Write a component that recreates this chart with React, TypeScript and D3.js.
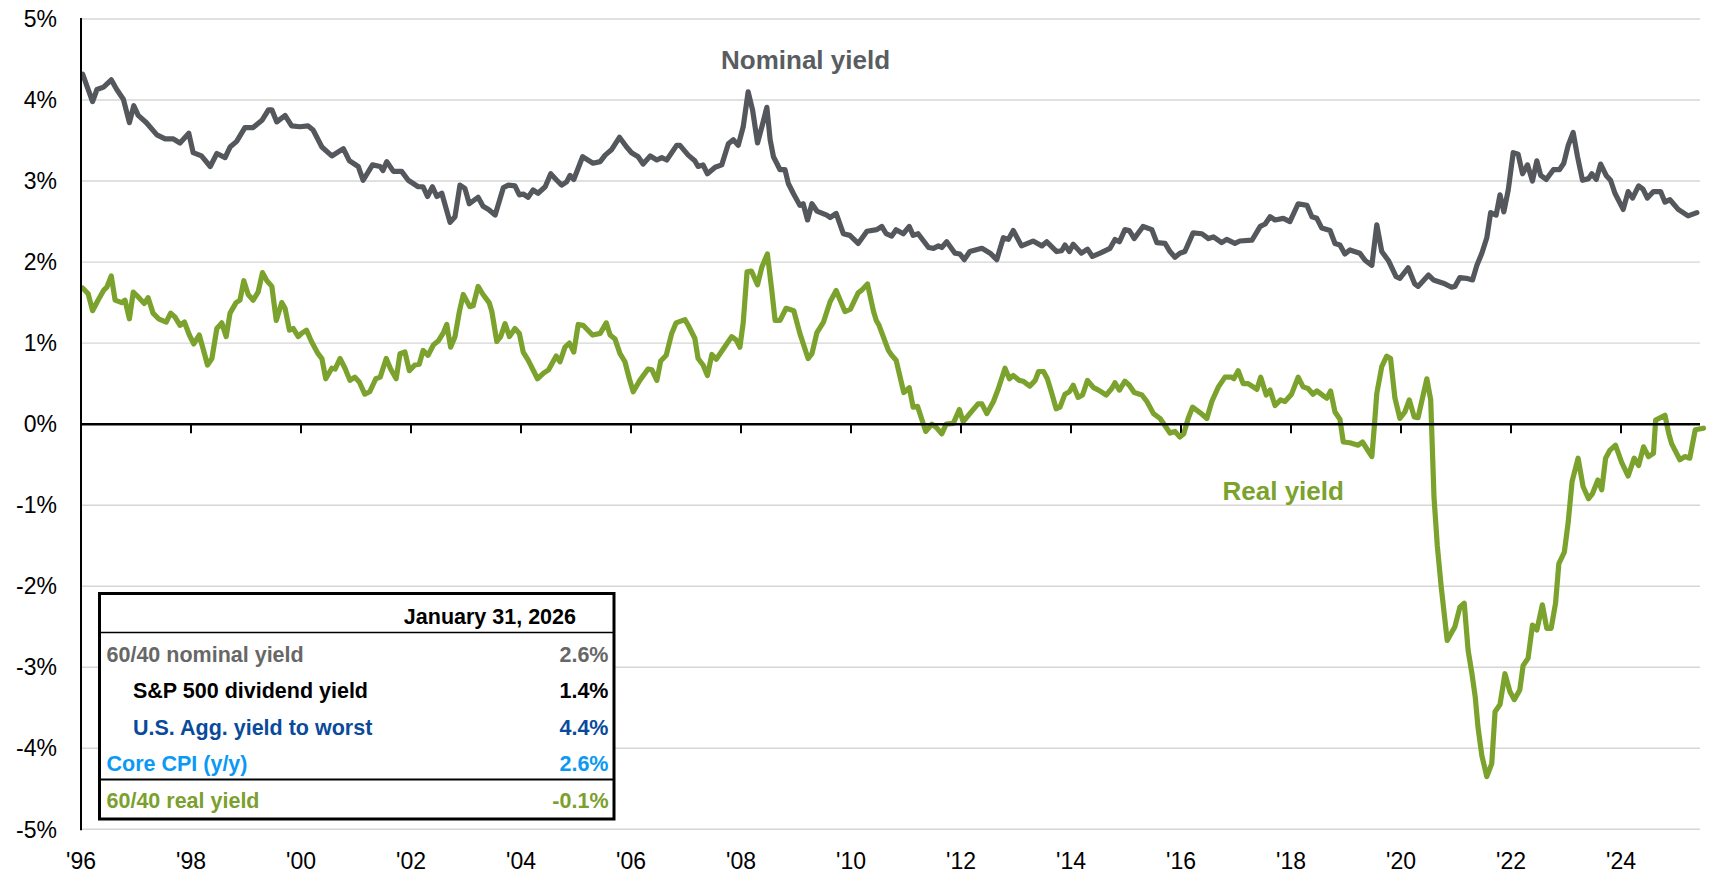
import React from 'react';
import * as d3 from 'd3';

// values, [year, percent]
const nominalYield: [number, number][] = [
  [1996.03, 4.32], [1996.21, 3.98], [1996.29, 4.13], [1996.41, 4.16], [1996.55, 4.25], [1996.65, 4.13],
  [1996.77, 4.01], [1996.88, 3.72], [1996.96, 3.93], [1997.04, 3.81], [1997.19, 3.72], [1997.38, 3.57],
  [1997.53, 3.52], [1997.68, 3.52], [1997.80, 3.47], [1997.96, 3.59], [1998.04, 3.35], [1998.19, 3.31],
  [1998.35, 3.18], [1998.47, 3.34], [1998.62, 3.29], [1998.71, 3.42], [1998.83, 3.49], [1998.98, 3.66],
  [1999.13, 3.66], [1999.29, 3.75], [1999.41, 3.88], [1999.47, 3.88], [1999.56, 3.73], [1999.71, 3.81],
  [1999.83, 3.68], [1999.98, 3.67], [2000.13, 3.68], [2000.22, 3.63], [2000.38, 3.42], [2000.56, 3.31],
  [2000.77, 3.40], [2000.88, 3.25], [2001.04, 3.18], [2001.13, 3.01], [2001.30, 3.20], [2001.44, 3.18],
  [2001.49, 3.13], [2001.56, 3.24], [2001.68, 3.12], [2001.83, 3.12], [2001.95, 3.01], [2002.13, 2.93],
  [2002.22, 2.93], [2002.30, 2.81], [2002.39, 2.93], [2002.47, 2.81], [2002.56, 2.85], [2002.71, 2.49],
  [2002.80, 2.56], [2002.89, 2.95], [2002.98, 2.91], [2003.06, 2.72], [2003.22, 2.80], [2003.31, 2.69],
  [2003.41, 2.65], [2003.53, 2.58], [2003.68, 2.92], [2003.77, 2.95], [2003.89, 2.94], [2003.97, 2.83],
  [2004.04, 2.84], [2004.13, 2.80], [2004.22, 2.89], [2004.31, 2.85], [2004.44, 2.93], [2004.54, 3.09],
  [2004.65, 3.01], [2004.74, 2.95], [2004.83, 2.99], [2004.89, 3.07], [2004.96, 3.02], [2005.12, 3.30],
  [2005.31, 3.22], [2005.44, 3.24], [2005.53, 3.32], [2005.65, 3.39], [2005.79, 3.54], [2005.92, 3.42],
  [2006.01, 3.35], [2006.13, 3.30], [2006.22, 3.21], [2006.35, 3.31], [2006.47, 3.26], [2006.56, 3.29],
  [2006.65, 3.26], [2006.83, 3.44], [2006.89, 3.44], [2007.04, 3.32], [2007.16, 3.25], [2007.22, 3.18],
  [2007.31, 3.20], [2007.39, 3.09], [2007.53, 3.17], [2007.65, 3.20], [2007.77, 3.46], [2007.86, 3.51],
  [2007.95, 3.44], [2008.04, 3.67], [2008.13, 4.10], [2008.21, 3.88], [2008.30, 3.47], [2008.38, 3.67],
  [2008.47, 3.91], [2008.53, 3.51], [2008.59, 3.30], [2008.71, 3.14], [2008.80, 3.14], [2008.86, 2.97],
  [2008.95, 2.85], [2009.07, 2.70], [2009.13, 2.72], [2009.21, 2.52], [2009.29, 2.72], [2009.38, 2.63],
  [2009.56, 2.58], [2009.62, 2.55], [2009.73, 2.60], [2009.86, 2.35], [2009.98, 2.33], [2010.13, 2.23],
  [2010.29, 2.38], [2010.47, 2.40], [2010.56, 2.44], [2010.64, 2.35], [2010.74, 2.32], [2010.82, 2.40],
  [2010.95, 2.35], [2011.06, 2.44], [2011.13, 2.33], [2011.22, 2.35], [2011.41, 2.18], [2011.50, 2.17],
  [2011.59, 2.20], [2011.65, 2.18], [2011.74, 2.25], [2011.89, 2.11], [2011.98, 2.10], [2012.06, 2.03],
  [2012.16, 2.13], [2012.38, 2.17], [2012.53, 2.11], [2012.65, 2.03], [2012.77, 2.30], [2012.86, 2.28],
  [2012.95, 2.39], [2013.10, 2.20], [2013.31, 2.26], [2013.47, 2.20], [2013.56, 2.25], [2013.74, 2.13],
  [2013.83, 2.14], [2013.89, 2.21], [2013.97, 2.13], [2014.04, 2.22], [2014.19, 2.11], [2014.30, 2.16],
  [2014.39, 2.07], [2014.53, 2.11], [2014.71, 2.17], [2014.80, 2.28], [2014.88, 2.25], [2014.98, 2.40],
  [2015.06, 2.39], [2015.15, 2.29], [2015.31, 2.44], [2015.47, 2.40], [2015.56, 2.24], [2015.71, 2.23],
  [2015.80, 2.13], [2015.89, 2.06], [2015.98, 2.11], [2016.07, 2.13], [2016.22, 2.36], [2016.38, 2.35],
  [2016.50, 2.29], [2016.59, 2.31], [2016.74, 2.24], [2016.83, 2.28], [2016.98, 2.23], [2017.07, 2.26],
  [2017.29, 2.27], [2017.44, 2.44], [2017.53, 2.47], [2017.62, 2.56], [2017.71, 2.52], [2017.86, 2.54],
  [2017.98, 2.50], [2018.13, 2.72], [2018.29, 2.70], [2018.38, 2.56], [2018.47, 2.54], [2018.56, 2.42],
  [2018.71, 2.39], [2018.80, 2.23], [2018.89, 2.21], [2018.98, 2.10], [2019.07, 2.15], [2019.25, 2.11],
  [2019.35, 2.02], [2019.47, 1.96], [2019.56, 2.46], [2019.65, 2.13], [2019.77, 2.02], [2019.91, 1.82],
  [2019.98, 1.80], [2020.13, 1.93], [2020.25, 1.73], [2020.31, 1.70], [2020.50, 1.84], [2020.59, 1.78],
  [2020.77, 1.74], [2020.92, 1.69], [2020.98, 1.70], [2021.07, 1.81], [2021.19, 1.80], [2021.30, 1.78],
  [2021.38, 1.96], [2021.47, 2.11], [2021.56, 2.30], [2021.63, 2.61], [2021.73, 2.58], [2021.80, 2.83],
  [2021.87, 2.62], [2021.95, 2.89], [2022.04, 3.35], [2022.13, 3.33], [2022.21, 3.09], [2022.30, 3.20],
  [2022.39, 3.00], [2022.47, 3.25], [2022.54, 3.07], [2022.64, 3.02], [2022.77, 3.14], [2022.88, 3.14],
  [2022.96, 3.22], [2023.04, 3.44], [2023.13, 3.60], [2023.21, 3.30], [2023.30, 3.01], [2023.41, 3.03],
  [2023.47, 3.09], [2023.55, 3.02], [2023.63, 3.21], [2023.73, 3.07], [2023.81, 3.01], [2023.89, 2.85],
  [2024.04, 2.65], [2024.13, 2.87], [2024.21, 2.79], [2024.32, 2.94], [2024.40, 2.90], [2024.48, 2.79],
  [2024.59, 2.87], [2024.72, 2.87], [2024.80, 2.74], [2024.89, 2.77], [2025.04, 2.65], [2025.22, 2.57],
  [2025.38, 2.61],
];

const realYield: [number, number][] = [
  [1996.03, 1.68], [1996.13, 1.61], [1996.21, 1.40], [1996.31, 1.53], [1996.41, 1.65], [1996.47, 1.69],
  [1996.55, 1.83], [1996.62, 1.53], [1996.74, 1.50], [1996.80, 1.53], [1996.88, 1.30], [1996.95, 1.63],
  [1997.04, 1.57], [1997.15, 1.49], [1997.22, 1.56], [1997.31, 1.37], [1997.41, 1.30], [1997.55, 1.26],
  [1997.63, 1.37], [1997.71, 1.32], [1997.80, 1.22], [1997.88, 1.26], [1997.97, 1.10], [1998.05, 0.99],
  [1998.15, 1.10], [1998.22, 0.93], [1998.30, 0.73], [1998.38, 0.81], [1998.47, 1.18], [1998.56, 1.25],
  [1998.64, 1.08], [1998.71, 1.37], [1998.82, 1.50], [1998.89, 1.53], [1998.96, 1.77], [1999.04, 1.60],
  [1999.13, 1.53], [1999.22, 1.63], [1999.30, 1.87], [1999.38, 1.77], [1999.47, 1.70], [1999.55, 1.28],
  [1999.65, 1.50], [1999.71, 1.43], [1999.79, 1.16], [1999.86, 1.18], [1999.95, 1.08], [2000.01, 1.12],
  [2000.10, 1.16], [2000.19, 1.02], [2000.31, 0.87], [2000.38, 0.81], [2000.45, 0.56], [2000.56, 0.69],
  [2000.62, 0.68], [2000.71, 0.81], [2000.80, 0.69], [2000.89, 0.54], [2000.98, 0.58], [2001.06, 0.52],
  [2001.16, 0.37], [2001.25, 0.40], [2001.36, 0.56], [2001.44, 0.58], [2001.55, 0.81], [2001.63, 0.68],
  [2001.73, 0.56], [2001.80, 0.87], [2001.89, 0.89], [2001.97, 0.66], [2002.07, 0.73], [2002.15, 0.74],
  [2002.22, 0.91], [2002.31, 0.85], [2002.41, 0.98], [2002.50, 1.03], [2002.59, 1.13], [2002.65, 1.23],
  [2002.72, 0.95], [2002.80, 1.08], [2002.88, 1.39], [2002.95, 1.60], [2003.07, 1.45], [2003.13, 1.46],
  [2003.22, 1.70], [2003.31, 1.60], [2003.42, 1.50], [2003.47, 1.39], [2003.56, 1.02], [2003.63, 1.08],
  [2003.71, 1.24], [2003.79, 1.08], [2003.89, 1.18], [2003.97, 1.12], [2004.04, 0.89], [2004.13, 0.79],
  [2004.30, 0.56], [2004.41, 0.63], [2004.50, 0.67], [2004.64, 0.84], [2004.71, 0.77], [2004.80, 0.95],
  [2004.88, 1.00], [2004.96, 0.89], [2005.04, 1.23], [2005.13, 1.22], [2005.30, 1.10], [2005.44, 1.12],
  [2005.55, 1.25], [2005.62, 1.10], [2005.71, 1.05], [2005.80, 0.87], [2005.89, 0.77], [2005.97, 0.56],
  [2006.04, 0.40], [2006.16, 0.54], [2006.31, 0.68], [2006.38, 0.67], [2006.47, 0.54], [2006.54, 0.78],
  [2006.64, 0.85], [2006.74, 1.12], [2006.82, 1.25], [2006.98, 1.29], [2007.04, 1.22], [2007.16, 1.06],
  [2007.22, 0.81], [2007.31, 0.73], [2007.39, 0.60], [2007.47, 0.86], [2007.55, 0.80], [2007.68, 0.93],
  [2007.83, 1.08], [2007.91, 1.04], [2007.98, 0.95], [2008.04, 1.25], [2008.11, 1.88], [2008.19, 1.89],
  [2008.30, 1.72], [2008.38, 1.94], [2008.48, 2.10], [2008.56, 1.65], [2008.62, 1.28], [2008.71, 1.28],
  [2008.82, 1.43], [2008.96, 1.40], [2009.07, 1.12], [2009.22, 0.81], [2009.29, 0.87], [2009.38, 1.13],
  [2009.50, 1.26], [2009.62, 1.51], [2009.73, 1.65], [2009.89, 1.39], [2009.99, 1.42], [2010.13, 1.62],
  [2010.19, 1.65], [2010.30, 1.73], [2010.41, 1.39], [2010.46, 1.28], [2010.51, 1.22], [2010.68, 0.91],
  [2010.74, 0.85], [2010.82, 0.79], [2010.96, 0.39], [2011.06, 0.45], [2011.13, 0.21], [2011.21, 0.22],
  [2011.36, -0.09], [2011.47, 0.00], [2011.55, -0.04], [2011.65, -0.12], [2011.73, 0.00], [2011.86, 0.01],
  [2011.97, 0.18], [2012.04, 0.03], [2012.16, 0.13], [2012.31, 0.25], [2012.38, 0.25], [2012.47, 0.13],
  [2012.59, 0.28], [2012.68, 0.44], [2012.80, 0.69], [2012.88, 0.56], [2012.95, 0.60], [2013.06, 0.54],
  [2013.13, 0.53], [2013.25, 0.47], [2013.35, 0.54], [2013.41, 0.65], [2013.50, 0.65], [2013.57, 0.56],
  [2013.65, 0.38], [2013.73, 0.19], [2013.80, 0.21], [2013.89, 0.37], [2013.97, 0.40], [2014.04, 0.48],
  [2014.13, 0.33], [2014.21, 0.36], [2014.30, 0.54], [2014.41, 0.45], [2014.50, 0.42], [2014.64, 0.36],
  [2014.74, 0.44], [2014.80, 0.51], [2014.88, 0.42], [2014.98, 0.53], [2015.06, 0.48], [2015.15, 0.39],
  [2015.29, 0.36], [2015.38, 0.28], [2015.50, 0.13], [2015.62, 0.07], [2015.71, -0.02], [2015.80, -0.11],
  [2015.89, -0.09], [2015.98, -0.16], [2016.05, -0.12], [2016.13, 0.07], [2016.21, 0.21], [2016.35, 0.14],
  [2016.47, 0.07], [2016.56, 0.28], [2016.68, 0.46], [2016.80, 0.58], [2016.92, 0.58], [2016.96, 0.56],
  [2017.04, 0.66], [2017.13, 0.50], [2017.22, 0.50], [2017.38, 0.43], [2017.45, 0.58], [2017.55, 0.36],
  [2017.62, 0.42], [2017.71, 0.23], [2017.81, 0.30], [2017.89, 0.28], [2018.01, 0.37], [2018.13, 0.58],
  [2018.22, 0.46], [2018.31, 0.44], [2018.40, 0.37], [2018.47, 0.41], [2018.59, 0.35], [2018.65, 0.32],
  [2018.72, 0.41], [2018.80, 0.15], [2018.89, 0.06], [2018.95, -0.22], [2019.07, -0.23], [2019.22, -0.26],
  [2019.30, -0.22], [2019.47, -0.40], [2019.51, -0.07], [2019.56, 0.38], [2019.65, 0.71], [2019.74, 0.84],
  [2019.81, 0.81], [2019.89, 0.32], [2019.98, 0.07], [2020.07, 0.15], [2020.15, 0.30], [2020.24, 0.09],
  [2020.31, 0.08], [2020.47, 0.56], [2020.54, 0.30], [2020.60, -0.90], [2020.66, -1.50], [2020.73, -2.00],
  [2020.84, -2.67], [2020.98, -2.50], [2021.07, -2.26], [2021.15, -2.21], [2021.22, -2.79], [2021.29, -3.08],
  [2021.35, -3.37], [2021.40, -3.74], [2021.47, -4.09], [2021.56, -4.35], [2021.65, -4.19], [2021.71, -3.55],
  [2021.80, -3.46], [2021.89, -3.08], [2021.98, -3.30], [2022.06, -3.40], [2022.16, -3.28], [2022.22, -2.98],
  [2022.31, -2.89], [2022.39, -2.48], [2022.47, -2.54], [2022.57, -2.23], [2022.65, -2.52], [2022.73, -2.52],
  [2022.81, -2.21], [2022.87, -1.72], [2022.97, -1.58], [2023.04, -1.21], [2023.11, -0.71], [2023.22, -0.42],
  [2023.31, -0.77], [2023.41, -0.92], [2023.48, -0.86], [2023.58, -0.69], [2023.65, -0.81], [2023.72, -0.42],
  [2023.80, -0.32], [2023.90, -0.26], [2024.01, -0.47], [2024.13, -0.64], [2024.24, -0.42], [2024.32, -0.51],
  [2024.41, -0.28], [2024.50, -0.40], [2024.59, -0.36], [2024.63, 0.05], [2024.80, 0.11], [2024.87, -0.12],
  [2024.92, -0.24], [2025.07, -0.44], [2025.16, -0.40], [2025.25, -0.42], [2025.35, -0.07], [2025.50, -0.05],
];

const xTickYears = [1996, 1998, 2000, 2002, 2004, 2006, 2008, 2010, 2012, 2014, 2016, 2018, 2020, 2022, 2024];
const yTickValues = [5, 4, 3, 2, 1, 0, -1, -2, -3, -4, -5];

const tableDate = 'January 31, 2026';
const tableLabels = ['60/40 nominal yield', 'S&P 500 dividend yield', 'U.S. Agg. yield to worst', 'Core CPI (y/y)', '60/40 real yield'];
const tableValues = ['2.6%', '1.4%', '4.4%', '2.6%', '-0.1%'];
const tableColors = ['#676767', '#000000', '#0a4a9c', '#0a99f5', '#7ba02e'];
const tableIndent = [false, true, true, false, false];

const GRAY = '#54585c';
const GREEN = '#7aa22d';
const FONT = 'Arial, "Liberation Sans", sans-serif';

export default function App() {
  const x = d3.scaleLinear().domain([1996, 1996 + 1619 / 55]).range([81, 1700]);
  const y = d3.scaleLinear().domain([-5, 5]).range([829.3, 19]);

  const line = d3.line<[number, number]>()
    .x(d => x(d[0]))
    .y(d => y(d[1]));

  // table box
  const tx0 = 99.5, tx1 = 614, ty0 = 593.5, ty1 = 819;
  const rowH = 36.5;

  return (
    <svg width={1710} height={874} style={{ position: 'absolute', left: 0, top: 0, background: '#fff' }} fontFamily={FONT}>
      <rect x={0} y={0} width={1710} height={874} fill="#fff" />

      {/* gridlines */}
      {yTickValues.filter(v => v !== 0).map(v => (
        <line key={'g' + v} x1={x(1996)} x2={1700} y1={y(v)} y2={y(v)} stroke="#d6d6d6" strokeWidth={1.4} />
      ))}

      {/* y labels */}
      {yTickValues.map(v => (
        <text key={'yl' + v} x={57} y={y(v) + 8.2} textAnchor="end" fontSize={23} fill="#000">{v + '%'}</text>
      ))}

      {/* x ticks + labels */}
      {xTickYears.map(yr => (
        <g key={'x' + yr}>
          <line x1={x(yr)} x2={x(yr)} y1={y(0)} y2={y(0) + 9} stroke="#000" strokeWidth={2} />
          <text x={x(yr)} y={869} textAnchor="middle" fontSize={23} fill="#000">{"'" + String(yr).slice(2)}</text>
        </g>
      ))}

      {/* series */}
      <path d={line(nominalYield) || ''} fill="none" stroke={GRAY} strokeWidth={5.2} strokeLinejoin="round" strokeLinecap="round" />
      <path d={line(realYield) || ''} fill="none" stroke={GREEN} strokeWidth={5.2} strokeLinejoin="round" strokeLinecap="round" />

      {/* axes */}
      <line x1={x(1996)} x2={x(1996)} y1={y(5) - 1} y2={y(-5) + 1} stroke="#000" strokeWidth={2} />
      <line x1={x(1996)} x2={1700} y1={y(0)} y2={y(0)} stroke="#000" strokeWidth={2.5} />

      {/* series labels */}
      <text x={721} y={69} fontSize={26} fontWeight="bold" fill="#595d61">Nominal yield</text>
      <text x={1222.5} y={500} fontSize={26} fontWeight="bold" fill={GREEN}>Real yield</text>

      {/* summary table */}
      <rect x={tx0} y={ty0} width={tx1 - tx0} height={ty1 - ty0} fill="#fff" stroke="#000" strokeWidth={3} />
      <line x1={tx0} x2={tx1} y1={632.5} y2={632.5} stroke="#000" strokeWidth={1.6} />
      <line x1={tx0} x2={tx1} y1={779.5} y2={779.5} stroke="#000" strokeWidth={2.2} />
      <text x={576} y={624.3} textAnchor="end" fontSize={21.5} fontWeight="bold" fill="#000">{tableDate}</text>
      {tableLabels.map((label, i) => (
        <g key={label}>
          <text x={tableIndent[i] ? 133 : 106.5} y={661.7 + i * rowH} fontSize={21.5} fontWeight="bold" fill={tableColors[i]}>{label}</text>
          <text x={608.5} y={661.7 + i * rowH} textAnchor="end" fontSize={21.5} fontWeight="bold" fill={tableColors[i]}>{tableValues[i]}</text>
        </g>
      ))}
    </svg>
  );
}
